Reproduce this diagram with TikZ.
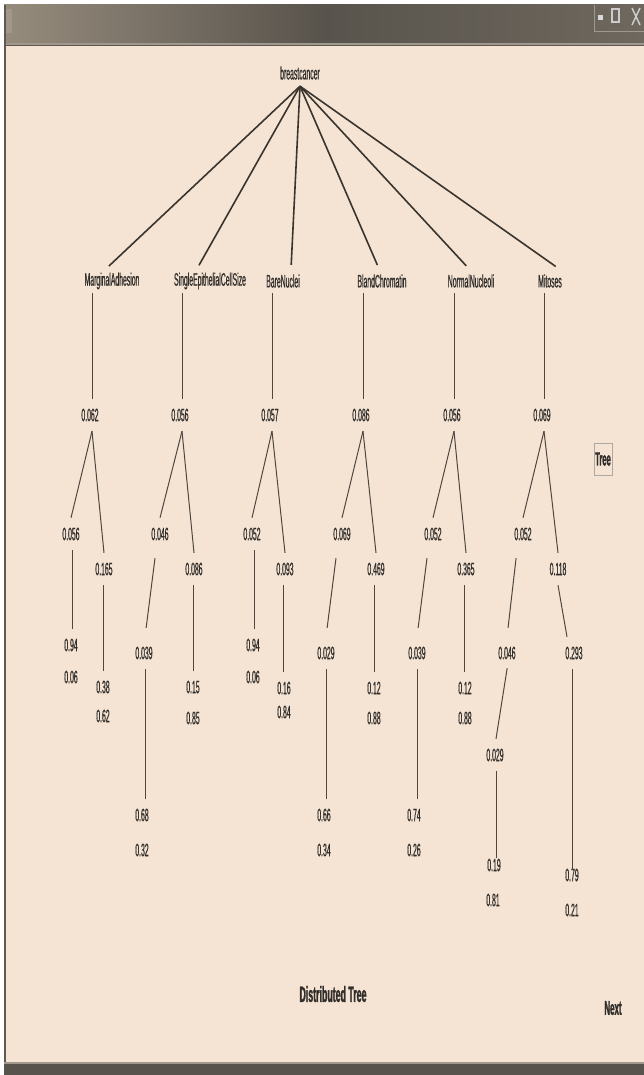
\documentclass[tikz,border=0pt]{standalone}
\usepackage{fontspec}
\newfontfamily\nfont[FakeStretch=0.38,FakeBold=0.6]{Liberation Sans}
\newfontfamily\bfontA[FakeStretch=0.4,BoldFeatures={FakeBold=1.2}]{Liberation Sans}
\definecolor{bg}{RGB}{245,228,211}
\definecolor{txt}{RGB}{48,45,42}
\definecolor{edgec}{RGB}{78,70,64}
\definecolor{rootc}{RGB}{58,52,46}
\definecolor{tbA}{RGB}{150,140,125}
\definecolor{tbB}{RGB}{88,83,76}
\definecolor{tbC}{RGB}{110,104,94}
\definecolor{tbl}{RGB}{160,152,140}
\definecolor{tbd}{RGB}{95,88,80}
\definecolor{boxc}{RGB}{175,168,160}
\tikzset{
  lbl/.style={font=\nfont\fontsize{18}{18}\selectfont, text=txt, inner sep=0pt, minimum height=24pt},
  num/.style={font=\nfont\fontsize{18}{18}\selectfont, text=txt, inner sep=0pt, minimum height=32pt},
  btxt/.style={font=\bfontA\bfseries\fontsize{#1}{#1}\selectfont, text=txt, inner sep=0pt},
  rootedge/.style={draw=rootc, line width=1.6pt},
  tedge/.style={draw=edgec, line width=1pt},
}
\begin{document}
\begin{tikzpicture}[x=1pt,y=-1pt]
\useasboundingbox (0,0) rectangle (644,1075);
% window frame
\fill[white] (0,0) rectangle (644,1075);
\fill[bg] (4,43) rectangle (644,1062);
\shade[left color=tbA, right color=tbC, middle color=tbB] (4,5) rectangle (644,43);
\fill[tbl] (4,43) rectangle (644,45);
\fill[tbd] (4,45) rectangle (644,46.5);
\fill[tbd] (4,5) rectangle (6,1075);
\fill[tbB] (4,1062) rectangle (644,1075);
\fill[tbl] (4,1062) rectangle (644,1064);
\fill[tbl] (6,9) rectangle (12,33);
\draw[tbl, line width=0.8pt] (594,5) -- (594,31) -- (644,31);
\fill[white!70!gray] (598,15) rectangle (603,20);
\draw[white!60!gray, line width=1.2pt] (612,9) rectangle (619,22);
\draw[white!60!gray, line width=1.5pt] (632,8) -- (640,25) (640,8) -- (632,25);

% root and attributes
\node[lbl, minimum height=26pt] (root) at (300,73) {breastcancer};
\node[lbl] (a1) at (112,281) {MarginalAdhesion};
\node[lbl] (a2) at (210,281) {SingleEpithelialCellSize};
\node[lbl] (a3) at (283,281) {BareNuclei};
\node[lbl] (a4) at (382,281) {BlandChromatin};
\node[lbl] (a5) at (471,281) {NormalNucleoli};
\node[lbl] (a6) at (550,281) {Mitoses};
\draw[rootedge, shorten >=4pt] (root.south) -- ([xshift=-6]a1.north);
\draw[rootedge, shorten >=4pt] (root.south) -- ([xshift=-13]a2.north);
\draw[rootedge, shorten >=4pt] (root.south) -- ([xshift=8]a3.north);
\draw[rootedge, shorten >=4pt] (root.south) -- ([xshift=-3]a4.north);
\draw[rootedge, shorten >=4pt] (root.south) -- ([xshift=-2]a5.north);
\draw[rootedge, shorten >=4pt] (root.south) -- ([xshift=9]a6.north);

% level 2
\node[num] (n1) at (90,415) {0.062};
\node[num] (n2) at (180,415) {0.056};
\node[num] (n3) at (270,415) {0.057};
\node[num] (n4) at (361,415) {0.086};
\node[num] (n5) at (452,415) {0.056};
\node[num] (n6) at (542,415) {0.069};
\foreach \i in {1,...,6}{
  \draw[tedge] ([xshift=2]a\i.south -| n\i.north) -- ([xshift=2]n\i.north);
}

% tree 1
\node[num] (n1l) at (71,534) {0.056};
\node[num] (n1r) at (104,569) {0.165};
\node[num] (n1la) at (71,645) {0.94};
\node[num] (n1lb) at (71,677) {0.06};
\node[num] (n1ra) at (103,687) {0.38};
\node[num] (n1rb) at (103,716) {0.62};
\draw[tedge] ([xshift=2]n1.south) -- (n1l.north);
\draw[tedge] ([xshift=2]n1.south) -- (n1r.north);
\draw[tedge] ([xshift=1]n1l.south) -- ([xshift=1]n1la.north);
\draw[tedge] ([xshift=-1]n1r.south) -- ([xshift=-1]n1r.south |- n1ra.north);

% tree 2
\node[num] (n2l) at (160,534) {0.046};
\node[num] (n2r) at (194,569) {0.086};
\node[num] (n2ll) at (144,653) {0.039};
\node[num] (n2lla) at (142,815) {0.68};
\node[num] (n2llb) at (142,850) {0.32};
\node[num] (n2ra) at (193,687) {0.15};
\node[num] (n2rb) at (193,718) {0.85};
\draw[tedge] ([xshift=2]n2.south) -- (n2l.north);
\draw[tedge] ([xshift=2]n2.south) -- (n2r.north);
\draw[tedge, shorten <=8pt, shorten >=9pt] ([xshift=-4]n2l.south) -- ([xshift=1]n2ll.north);
\draw[tedge] ([xshift=1]n2ll.south) -- ([xshift=1]n2ll.south |- n2lla.north);
\draw[tedge] ([xshift=-1]n2r.south) -- ([xshift=-1]n2r.south |- n2ra.north);

% tree 3
\node[num] (n3l) at (252,534) {0.052};
\node[num] (n3r) at (285,569) {0.093};
\node[num] (n3la) at (253,645) {0.94};
\node[num] (n3lb) at (253,677) {0.06};
\node[num] (n3ra) at (284,688) {0.16};
\node[num] (n3rb) at (284,712) {0.84};
\draw[tedge] ([xshift=2]n3.south) -- (n3l.north);
\draw[tedge] ([xshift=2]n3.south) -- (n3r.north);
\draw[tedge] ([xshift=2]n3l.south) -- ([xshift=2]n3l.south |- n3la.north);
\draw[tedge] ([xshift=-2]n3r.south) -- ([xshift=-2]n3r.south |- n3ra.north);

% tree 4
\node[num] (n4l) at (342,534) {0.069};
\node[num] (n4r) at (376,569) {0.469};
\node[num] (n4ll) at (326,653) {0.029};
\node[num] (n4lla) at (324,815) {0.66};
\node[num] (n4llb) at (324,850) {0.34};
\node[num] (n4ra) at (374,688) {0.12};
\node[num] (n4rb) at (374,718) {0.88};
\draw[tedge] ([xshift=2]n4.south) -- (n4l.north);
\draw[tedge] ([xshift=2]n4.south) -- (n4r.north);
\draw[tedge, shorten <=8pt, shorten >=9pt] ([xshift=-5]n4l.south) -- (n4ll.north);
\draw[tedge] (n4ll.south) -- (n4ll.south |- n4lla.north);
\draw[tedge] ([xshift=-2]n4r.south) -- ([xshift=-2]n4r.south |- n4ra.north);

% tree 5
\node[num] (n5l) at (433,534) {0.052};
\node[num] (n5r) at (466,569) {0.365};
\node[num] (n5ll) at (417,653) {0.039};
\node[num] (n5lla) at (414,815) {0.74};
\node[num] (n5llb) at (414,850) {0.26};
\node[num] (n5ra) at (465,688) {0.12};
\node[num] (n5rb) at (465,718) {0.88};
\draw[tedge] ([xshift=2]n5.south) -- (n5l.north);
\draw[tedge] ([xshift=2]n5.south) -- (n5r.north);
\draw[tedge, shorten <=8pt, shorten >=9pt] ([xshift=-5]n5l.south) -- (n5ll.north);
\draw[tedge] (n5ll.south) -- (n5ll.south |- n5lla.north);
\draw[tedge] ([xshift=-2]n5r.south) -- ([xshift=-2]n5r.south |- n5ra.north);

% tree 6
\node[num] (n6l) at (523,534) {0.052};
\node[num] (n6r) at (558,569) {0.118};
\node[num] (n6ll) at (507,653) {0.046};
\node[num] (n6lll) at (495,755) {0.029};
\node[num] (n6llla) at (494,865) {0.19};
\node[num] (n6lllb) at (493,900) {0.81};
\node[num] (n6rl) at (574,653) {0.293};
\node[num] (n6rla) at (572,875) {0.79};
\node[num] (n6rlb) at (572,910) {0.21};
\draw[tedge] ([xshift=2]n6.south) -- (n6l.north);
\draw[tedge] ([xshift=2]n6.south) -- (n6r.north);
\draw[tedge, shorten <=8pt, shorten >=9pt] ([xshift=-6]n6l.south) -- (n6ll.north);
\draw[tedge, shorten <=-1pt] (n6ll.south) -- ([xshift=1]n6lll.north);
\draw[tedge, shorten >=-9pt] ([xshift=1]n6lll.south) -- ([xshift=1]n6lll.south |- n6llla.north);
\draw[tedge] (n6r.south) -- ([xshift=-7]n6rl.north);
\draw[tedge, shorten >=-11pt] ([xshift=-2]n6rl.south) -- ([xshift=-2]n6rl.south |- n6rla.north);

% buttons and captions
\node[btxt=19, draw=boxc, line width=0.8pt, minimum width=18pt, minimum height=32pt] (treebtn) at (603,459) {Tree};
\node[btxt=22] (caption) at (333,994) {Distributed Tree};
\node[btxt=20] (next) at (613,1008) {Next};
\end{tikzpicture}
\end{document}
